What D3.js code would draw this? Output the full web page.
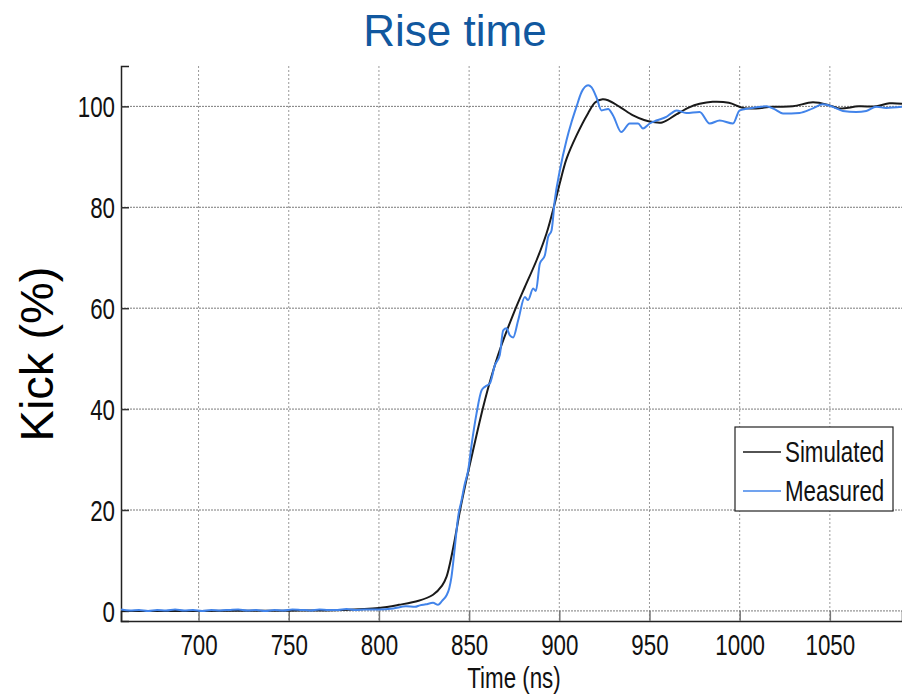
<!DOCTYPE html>
<html>
<head>
<meta charset="utf-8">
<script src="https://cdn.jsdelivr.net/npm/d3@7"></script>
<style>
  html, body { margin: 0; padding: 0; background: #fff; }
  svg { display: block; }
</style>
</head>
<body>
<svg id="chart" width="902" height="696"></svg>
<script>
// Kicker pulse rise: simulated vs measured waveform (time in ns, kick in %)
const simTime = [657, 700, 750, 780, 800, 811, 822, 830, 835, 837.5, 839.5, 842, 845, 848.5, 852.3,
  857.8, 862, 867, 875.4, 880.9, 887.4, 892.9, 897.5, 900.3, 904, 909.5, 915.9, 920, 924, 927,
  933.5, 940.9, 947, 952, 957, 964.9, 972, 977.8, 985, 994, 1001.8, 1009, 1018, 1029.5, 1040.6,
  1049.8, 1055, 1066, 1075.6, 1083, 1090];
const simKick = [0, 0, 0.05, 0.2, 0.6, 1.2, 2.0, 3.2, 5.0, 6.8, 9.6, 14, 20, 26, 32,
  40.4, 46, 51.7, 59.6, 64.2, 69.5, 74.8, 80.8, 84.8, 89.6, 94.2, 98.6, 100.8, 101.4, 101.2,
  99.9, 98.2, 97.3, 96.9, 96.8, 98.4, 99.8, 100.5, 100.9, 100.7, 99.7, 99.6, 99.9, 100, 100.8,
  100.2, 99.6, 100, 100, 100.6, 100.5];

const measTime = [657, 662, 667, 672, 677, 682, 687, 692, 697, 702, 707, 712, 717, 722, 727, 732,
  737, 742, 747, 752, 757, 762, 767, 772, 777, 782, 787, 792, 796, 800, 808, 815, 820, 822.7, 826,
  830, 832.8, 835, 837.5, 839, 840.2, 842.1, 843.9, 845.8, 847.5, 849.5, 851.4, 854.1, 856.9, 859,
  861.5, 864.3, 867, 868.9, 870.7, 872.6, 874.4, 877.2, 880.9, 882.7, 885.5, 887, 889.2, 892, 893.8,
  895.7, 897.5, 900.3, 904, 906.8, 909.5, 912.3, 916, 917.8, 920.6, 923.4, 927.1, 929.8, 934.4, 939,
  943.7, 946.4, 950.1, 953.8, 959.3, 962, 964.9, 970.4, 977.8, 983.4, 988.9, 996.3, 1000, 1005.5,
  1014.8, 1019, 1024, 1033.2, 1040.6, 1046.1, 1051.7, 1057.2, 1064.6, 1070.2, 1075.7, 1081.2, 1090];
const measKick = [0.3, 0.1, 0.2, 0.0, 0.2, 0.1, 0.3, 0.1, 0.2, 0.0, 0.2, 0.1, 0.2, 0.3, 0.1, 0.2,
  0.0, 0.2, 0.1, 0.3, 0.2, 0.1, 0.3, 0.2, 0.2, 0.4, 0.2, 0.3, 0.3, 0.3, 0.5, 0.9, 0.8, 1.1, 1.3,
  1.6, 1.2, 2.0, 3.1, 4.5, 6.7, 12.7, 18.6, 21.9, 25, 27.9, 33, 39.1, 43.7, 44.5,
  45.1, 48.7, 50.7, 55.6, 56, 54.6, 54.2, 57.6, 62.2, 61.6, 63.9, 63.4, 68.8, 70.5, 74.1,
  75.4, 81.4, 87.3, 93.3, 96.9, 99.9, 102.8, 104.2, 103.8, 101.8, 99.2, 99.5, 98.2, 94.9, 96.6,
  96.6, 95.6, 96.6, 97.2, 97.9, 98.6, 99.2, 98.7, 98.9, 96.6, 97.2, 96.6, 99.2, 99.6,
  100, 99.5, 98.6, 98.7, 99.6, 100.4, 99.9, 99.1, 98.9, 99.1, 99.9, 99.7, 99.9];

const xTicks = [700, 750, 800, 850, 900, 950, 1000, 1050];
const yTicks = [0, 20, 40, 60, 80, 100];
const seriesNames = ["Simulated", "Measured"];
const seriesColors = ["#1a1a1a", "#4284ea"];

const FONT = "Liberation Sans, Arial, sans-serif";
const NARROW = 0.77; // horizontal squeeze for the condensed axis lettering

const svg = d3.select("#chart");
const plot = { left: 121, right: 902, top: 66, bottom: 621 };

const x = d3.scaleLinear().domain([657, 1090]).range([plot.left, plot.right]);
const y = d3.scaleLinear().domain([-2, 108]).range([plot.bottom, plot.top]);

// condensed text placed at (px, py)
function narrowText(parent, px, py, str, size, anchor) {
  return parent.append("text")
    .attr("transform", `translate(${px},${py}) scale(${NARROW},1)`)
    .attr("text-anchor", anchor || "start")
    .attr("font-family", FONT)
    .attr("font-size", size)
    .attr("fill", "#111")
    .text(str);
}

// Title
svg.append("text")
  .attr("x", 455).attr("y", 46)
  .attr("text-anchor", "middle")
  .attr("font-family", FONT)
  .attr("font-size", 44)
  .attr("fill", "#11589f")
  .text("Rise time");

// Dotted grid
const grid = svg.append("g");
grid.selectAll("line.gx").data(xTicks).join("line")
  .attr("x1", d => x(d)).attr("x2", d => x(d))
  .attr("y1", plot.top).attr("y2", plot.bottom)
  .attr("stroke", "#9a9a9a").attr("stroke-width", 1).attr("stroke-dasharray", "2,2");
grid.selectAll("line.gy").data(yTicks).join("line")
  .attr("x1", plot.left).attr("x2", plot.right)
  .attr("y1", d => y(d)).attr("y2", d => y(d))
  .attr("stroke", "#7a7a7a").attr("stroke-width", 1).attr("stroke-dasharray", "2,1");

// Axes (ticks point inward)
const xAxis = d3.axisBottom(x).tickValues(xTicks).tickSize(-10).tickPadding(22).tickFormat(d3.format("d"));
const gx = svg.append("g").attr("transform", `translate(0,${plot.bottom})`).call(xAxis);
gx.select(".domain").attr("stroke", "#222").attr("stroke-width", 1.5);
gx.selectAll(".tick line").attr("stroke", "#777").attr("stroke-width", 1.5);
gx.selectAll(".tick text")
  .attr("font-family", FONT).attr("font-size", 29).attr("fill", "#111")
  .attr("y", 0).attr("dy", null)
  .attr("transform", `translate(0,34) scale(${NARROW},1)`);

const yAxis = d3.axisLeft(y).tickValues(yTicks).tickSize(-8).tickPadding(6).tickFormat(d3.format("d"));
const gy = svg.append("g").attr("transform", `translate(${plot.left},0)`).call(yAxis);
gy.select(".domain").attr("stroke", "#222").attr("stroke-width", 1.5);
gy.selectAll(".tick line").attr("stroke", "#333").attr("stroke-width", 1.5);
gy.selectAll(".tick text")
  .attr("font-family", FONT).attr("font-size", 29).attr("fill", "#111")
  .attr("x", 0).attr("dy", "0.36em")
  .attr("transform", `translate(-6,0) scale(${NARROW},1)`);

// Axis titles
narrowText(svg, 514, 688, "Time (ns)", 29, "middle");

svg.append("text")
  .attr("transform", "translate(53,354) rotate(-90)")
  .attr("text-anchor", "middle")
  .attr("font-family", FONT)
  .attr("font-size", 47).attr("fill", "#000")
  .text("Kick (%)");

// Curves
svg.append("clipPath").attr("id", "plotclip").append("rect")
  .attr("x", plot.left).attr("y", plot.top)
  .attr("width", plot.right - plot.left).attr("height", plot.bottom - plot.top);

const simLine = d3.line().x(d => x(d[0])).y(d => y(d[1])).curve(d3.curveCatmullRom.alpha(0.5));
const measLine = d3.line().x(d => x(d[0])).y(d => y(d[1])).curve(d3.curveMonotoneX);
const simData = simTime.map((t, i) => [t, simKick[i]]);
const measData = measTime.map((t, i) => [t, measKick[i]]);

const curves = svg.append("g").attr("clip-path", "url(#plotclip)");
curves.append("path").datum(simData)
  .attr("d", simLine).attr("fill", "none")
  .attr("stroke", seriesColors[0]).attr("stroke-width", 2);
curves.append("path").datum(measData)
  .attr("d", measLine).attr("fill", "none")
  .attr("stroke", seriesColors[1]).attr("stroke-width", 2);

// Legend
const legend = svg.append("g");
legend.append("rect")
  .attr("x", 735).attr("y", 427).attr("width", 158).attr("height", 84)
  .attr("fill", "#fff").attr("stroke", "#222").attr("stroke-width", 1.2);
seriesNames.forEach((name, i) => {
  const cy = 452 + i * 39;
  legend.append("line")
    .attr("x1", 743).attr("x2", 781).attr("y1", cy).attr("y2", cy)
    .attr("stroke", seriesColors[i]).attr("stroke-width", 1.5);
  narrowText(legend, 785, cy + 10, name, 29, "start");
});
</script>
</body>
</html>
